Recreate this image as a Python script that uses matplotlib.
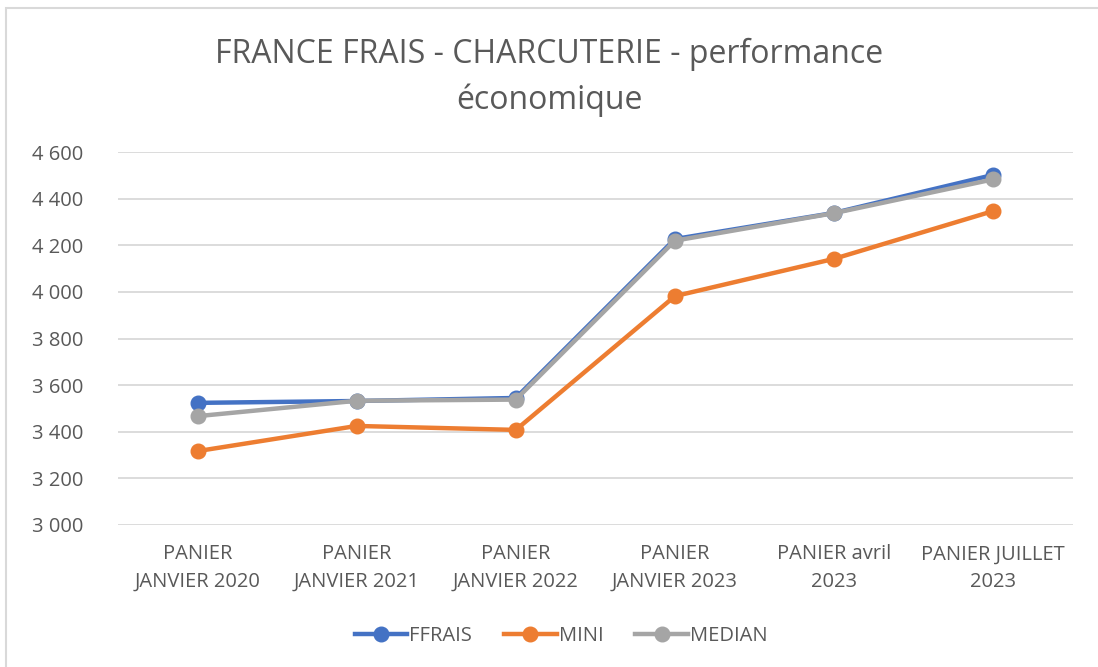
import matplotlib.pyplot as plt
from matplotlib.patches import Rectangle
from matplotlib.ticker import FuncFormatter

categories = ["PANIER\nJANVIER 2020", "PANIER\nJANVIER 2021", "PANIER\nJANVIER 2022",
              "PANIER\nJANVIER 2023", "PANIER avril\n2023", "PANIER JUILLET\n2023"]
ffrais = [3524, 3532, 3545, 4227, 4339, 4502]
mini = [3317, 3425, 3408, 3982, 4142, 4347]
median = [3467, 3533, 3538, 4220, 4338, 4483]

text_color = "#595959"
plt.rcParams['font.family'] = ['Open Sans', 'DejaVu Sans']

fig = plt.figure(figsize=(10.98, 6.67), dpi=100)
ax = fig.add_axes([0.1075, 0.2129, 0.8695, 0.5591])

# chart border
fig.patches.append(Rectangle((6 / 1098, -0.1), 1.2, 1.1 - 8 / 667,
                             transform=fig.transFigure, fill=False,
                             edgecolor="#D9D9D9", linewidth=1.5))

x = range(len(categories))
ax.plot(x, ffrais, color="#4472C4", lw=3.2, marker="o", ms=10.5, label="FFRAIS", zorder=3)
ax.plot(x, mini, color="#ED7D31", lw=3.2, marker="o", ms=10.5, label="MINI", zorder=3)
ax.plot(x, median, color="#A5A5A5", lw=3.2, marker="o", ms=10.5, label="MEDIAN", zorder=4)

ax.set_xlim(-0.5, len(categories) - 0.5)
ax.set_ylim(3000, 4600)
ax.set_yticks(range(3000, 4601, 200))
ax.yaxis.set_major_formatter(FuncFormatter(lambda v, p: f"{int(v):,}".replace(",", " ")))
ax.set_xticks(list(x))
ax.set_xticklabels(categories, linespacing=1.5)
ax.grid(axis="y", color="#D9D9D9", lw=1.3)
ax.set_axisbelow(True)
for s in ax.spines.values():
    s.set_visible(False)
ax.tick_params(length=0, labelsize=14.5, colors=text_color)
ax.tick_params(axis="x", pad=14)
ax.tick_params(axis="y", pad=25)

fig.text(0.5, 0.884, "FRANCE FRAIS - CHARCUTERIE - performance\néconomique",
         ha="center", va="center", fontsize=23, color=text_color, linespacing=1.5)

fig.legend(loc="center", bbox_to_anchor=(0.511, 0.047), ncol=3, frameon=False,
           fontsize=14.5, labelcolor=text_color, handlelength=2.6,
           columnspacing=1.6, handletextpad=0.1)

fig.savefig("out.png", dpi=100)
